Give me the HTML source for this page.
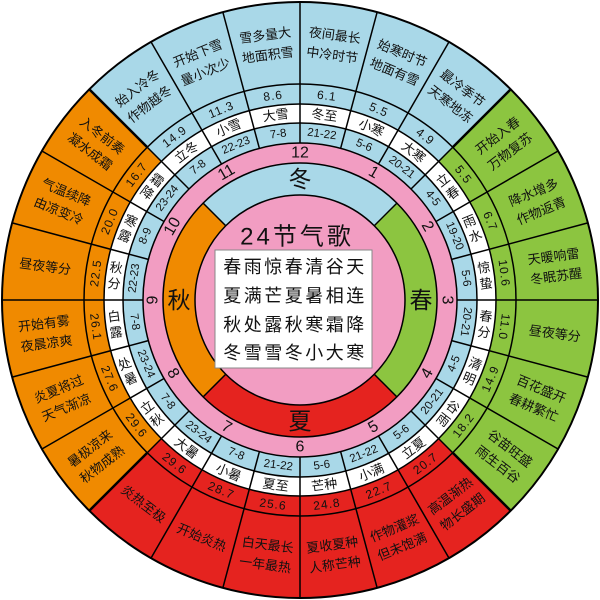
<!DOCTYPE html>
<html><head><meta charset="utf-8">
<style>
html,body{margin:0;padding:0;background:#fff;width:600px;height:600px;overflow:hidden}
svg{display:block}
text{font-family:"Liberation Sans","Noto Sans CJK SC",sans-serif;fill:#111}
</style></head>
<body>
<svg id="s" width="600" height="600" viewBox="0 0 600 600" xmlns="http://www.w3.org/2000/svg"></svg>
<script>
var S=document.getElementById('s');
var CX=300,CY=300;
var R0=298,R1=216,R2=196,R3=177,R4=157,R5=137,R6=105;
var BLUE='#a9d8e8',GREEN='#8cc540',RED='#e5231f',ORANGE='#f08a00',PINK='#f29dc2',WHITE='#ffffff';
function P(r,a){var t=a*Math.PI/180;return [CX+r*Math.sin(t),CY-r*Math.cos(t)];}
function sector(r1,r2,a1,a2,fill){
  var p1=P(r2,a1),p2=P(r2,a2),p3=P(r1,a2),p4=P(r1,a1);var lg=(a2-a1)>180?1:0;
  return '<path d="M'+p1+' A'+r2+' '+r2+' 0 '+lg+' 1 '+p2+' L'+p3+' A'+r1+' '+r1+' 0 '+lg+' 0 '+p4+' Z" fill="'+fill+'" stroke="none"/>';
}
function line(r1,r2,a,w){var a1=P(r1,a),a2=P(r2,a);return '<line x1="'+a1[0]+'" y1="'+a1[1]+'" x2="'+a2[0]+'" y2="'+a2[1]+'" stroke="#000" stroke-width="'+(w||1.5)+'"/>';}
function circ(r,w){return '<circle cx="'+CX+'" cy="'+CY+'" r="'+r+'" fill="none" stroke="#000" stroke-width="'+(w||1.5)+'"/>';}
function txt(x,y,rot,s,fs,extra){return '<text x="0" y="0" transform="translate('+x+','+y+') rotate('+rot+')" text-anchor="middle" dominant-baseline="central" font-size="'+fs+'" '+(extra||'')+'>'+s+'</text>';}
var T=[
['冬至','21-22','6.1',['夜间最长','中冷时节']],
['小寒','5-6','5.5',['始寒时节','地面有雪']],
['大寒','20-21','4.9',['最冷季节','天寒地冻']],
['立春','4-5','5.5',['开始入春','万物复苏']],
['雨水','19-20','6.7',['降水增多','作物返青']],
['惊蛰','5-6','10.6',['天暖响雷','冬眠苏醒']],
['春分','20-21','11.0',['昼夜等分']],
['清明','4-5','14.9',['百花盛开','春耕繁忙']],
['谷雨','20-21','18.2',['谷苗旺盛','雨生百谷']],
['立夏','5-6','20.7',['高温渐热','物长盛期']],
['小满','21-22','22.7',['作物灌浆','但未饱满']],
['芒种','5-6','24.8',['夏收夏种','人称芒种']],
['夏至','21-22','25.6',['白天最长','一年最热']],
['小暑','7-8','28.7',['开始炎热']],
['大暑','23-24','29.6',['炎热至极']],
['立秋','7-8','29.6',['暑极凉来','秋物成熟']],
['处暑','23-24','27.6',['炎夏将过','天气渐凉']],
['白露','7-8','26.1',['开始有雾','夜晨凉爽']],
['秋分','22-23','22.5',['昼夜等分']],
['寒露','8-9','20.0',['气温续降','由凉变冷']],
['霜降','23-24','16.7',['入冬前奏','凝水成霜']],
['立冬','7-8','14.9',['始入冷冬','作物越冬']],
['小雪','22-23','11.3',['开始下雪','量小次少']],
['大雪','7-8','8.6',['雪多量大','地面积雪']]];
var SC={0:BLUE,90:GREEN,180:RED,270:ORANGE};
var h='';
for(var i=0;i<24;i++){
  var a1=i*15,a2=a1+15,c=a1+7.5;var qc=(90*Math.round(c/90))%360;var col=SC[qc];
  h+=sector(R1,R0,a1,a2,col);h+=sector(R2,R1,a1,a2,col);
  h+=sector(R3,R2,a1,a2,WHITE);h+=sector(R4,R3,a1,a2,BLUE);
}
h+=sector(R5,R4,0,359.99,PINK);
h+=sector(R6,R5,-45,45,BLUE);h+=sector(R6,R5,45,135,GREEN);h+=sector(R6,R5,135,225,RED);h+=sector(R6,R5,225,315,ORANGE);
h+='<circle cx="300" cy="300" r="'+R6+'" fill="'+PINK+'"/>';
[R0,R1,R2,R3,R4,R5,R6].forEach(function(r){h+=circ(r,r==R0?2:1.5);});
for(var i=0;i<24;i++){h+=line(R4,R0,i*15,1.5);}
[45,135,225,315].forEach(function(a){h+=line(R6,R5,a,1.5);h+=line(R1,R0,a,2.5);});
for(var i=0;i<24;i++){
  var c=i*15+7.5;var qc=90*Math.round(c/90);var rot=c-qc;
  var flip=(c>100&&c<270);var trot=flip?c-180:c;
  var d=T[i];
  // description
  var p=P(257,c);var L=d[3];
  if(L.length==1){h+=txt(p[0],p[1],rot,L[0],13);}
  else{
    h+='<g transform="translate('+p[0]+','+p[1]+') rotate('+rot+')">';
    h+='<text x="0" y="-10" text-anchor="middle" dominant-baseline="central" font-size="13">'+L[0]+'</text>';
    h+='<text x="0" y="10" text-anchor="middle" dominant-baseline="central" font-size="13">'+L[1]+'</text></g>';
  }
  // temp
  p=P(206,c);h+=txt(p[0],p[1],trot,d[2],12,'letter-spacing="1"');
  // name
  p=P(186.5,c);
  if(qc%180==0){h+=txt(p[0],p[1],rot,d[0],13);}
  else{
    h+='<g transform="translate('+p[0]+','+p[1]+') rotate('+rot+')">';
    h+='<text x="0" y="-8" text-anchor="middle" dominant-baseline="central" font-size="13">'+d[0][0]+'</text>';
    h+='<text x="0" y="8" text-anchor="middle" dominant-baseline="central" font-size="13">'+d[0][1]+'</text></g>';
  }
  // date
  p=P(167,c);h+=txt(p[0],p[1],trot,d[1],11.5);
}
for(var m=1;m<=12;m++){
  var a=(m*30)%360;var flip=(a>100&&a<270);var p=P(147,a);
  h+=txt(p[0],p[1],flip?a-180:a,String(m),16);
}
var SN=[['冬',0],['春',90],['夏',180],['秋',270]];
SN.forEach(function(s){var p=P(121,s[1]);h+=txt(p[0],p[1],0,s[0],23);});
h+='<text x="297" y="237" text-anchor="middle" dominant-baseline="central" font-size="24" letter-spacing="3">24节气歌</text>';
h+='<rect x="215" y="250" width="157" height="118" fill="#fff" stroke="#888" stroke-width="1"/>';
var rows=['春雨惊春清谷天','夏满芒夏暑相连','秋处露秋寒霜降','冬雪雪冬小大寒'];
var ry=[267,296,325,353];
rows.forEach(function(r,k){h+='<text x="295" y="'+ry[k]+'" text-anchor="middle" dominant-baseline="central" font-size="18" letter-spacing="2.5">'+r+'</text>';});
S.innerHTML=h;
</script>
</body></html>
